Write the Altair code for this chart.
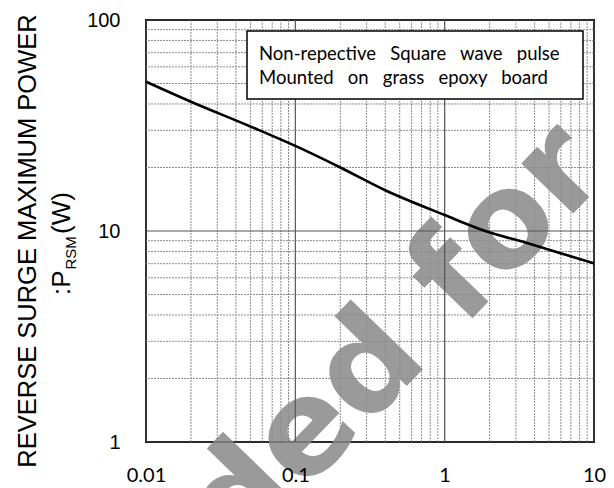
import altair as alt
import pandas as pd

# ---- data ----
pulse_width = [0.01, 0.02, 0.05, 0.1, 0.2, 0.4, 1.0, 1.87, 3.7, 5.0, 10.0]
surge_power = [51.0, 41.0, 31.3, 25.3, 20.0, 15.6, 11.9, 10.0, 8.7, 8.15, 7.03]

x_major = [0.01, 0.1, 1, 10]
y_major = [1, 10, 100]
x_minor = [0.02, 0.03, 0.04, 0.05, 0.06, 0.07, 0.08, 0.09,
           0.2, 0.3, 0.4, 0.5, 0.6, 0.7, 0.8, 0.9,
           2, 3, 4, 5, 6, 7, 8, 9]
y_minor = [2, 3, 4, 5, 6, 7, 8, 9, 20, 30, 40, 50, 60, 70, 80, 90]

gap = "\u00a0\u00a0 "
note_lines = [gap.join(["Non-repective", "Square", "wave", "pulse"]),
              gap.join(["Mounted", "on", "grass", "epoxy", "board"])]
y_title_1 = "REVERSE SURGE MAXIMUM POWER"
y_title_2 = [":P", "RSM", "(W)"]
watermark = "Not Recommended for"

W, H = 448, 422

xs = alt.Scale(type="log", domain=[0.01, 10], nice=False)
ys = alt.Scale(type="log", domain=[1, 100], nice=False)

x_axis = alt.Axis(values=x_major, format="~g", labelFont="Lato", labelFontSize=20,
                  labelColor="black", labelPadding=23, ticks=False, domain=False,
                  grid=False, title=None, labelOverlap=False, labelFlush=False, zindex=1)
y_axis = alt.Axis(values=y_major, format="~g", labelFont="Liberation Sans", labelFontSize=20,
                  labelColor="black", labelPadding=26, ticks=False, domain=False,
                  grid=False, title=None, labelOverlap=False, labelFlush=False, zindex=1)

curve_df = pd.DataFrame({"t": pulse_width, "p": surge_power})

wm = alt.Chart(pd.DataFrame({"s": [watermark]})).mark_text(
    font="DejaVu Sans", fontWeight="bold", fontSize=132, color="#9a9a9a",
    angle=314, align="right", baseline="middle"
).encode(text="s:N", x=alt.value(436), y=alt.value(127))

xminor = alt.Chart(pd.DataFrame({"t": x_minor})).mark_rule(
    color="#8c8c8c", strokeWidth=1, strokeDash=[2, 1]
).encode(x=alt.X("t:Q", scale=xs, axis=x_axis))
yminor = alt.Chart(pd.DataFrame({"p": y_minor})).mark_rule(
    color="#8c8c8c", strokeWidth=1, strokeDash=[2, 1]
).encode(y=alt.Y("p:Q", scale=ys, axis=y_axis))
xmajor = alt.Chart(pd.DataFrame({"t": x_major})).mark_rule(
    color="#555555", strokeWidth=1.2
).encode(x=alt.X("t:Q", scale=xs, axis=x_axis))
ymajor = alt.Chart(pd.DataFrame({"p": y_major})).mark_rule(
    color="#555555", strokeWidth=1.2
).encode(y=alt.Y("p:Q", scale=ys, axis=y_axis))

curve = alt.Chart(curve_df).mark_line(
    color="black", strokeWidth=2.6, interpolate="monotone"
).encode(x=alt.X("t:Q", scale=xs, axis=x_axis), y=alt.Y("p:Q", scale=ys, axis=y_axis))

box = alt.Chart(pd.DataFrame({"k": [0]})).mark_rect(
    fill="white", stroke="black", strokeWidth=1.5
).encode(x=alt.value(101), x2=alt.value(437), y=alt.value(11), y2=alt.value(79))

note1 = alt.Chart(pd.DataFrame({"s": [note_lines[0]]})).mark_text(
    font="Lato", fontSize=18.5, color="black", align="left", baseline="alphabetic"
).encode(text="s:N", x=alt.value(113), y=alt.value(39.5))
note2 = alt.Chart(pd.DataFrame({"s": [note_lines[1]]})).mark_text(
    font="Lato", fontSize=18.5, color="black", align="left", baseline="alphabetic"
).encode(text="s:N", x=alt.value(113), y=alt.value(63.5))

yt1 = alt.Chart(pd.DataFrame({"s": [y_title_1]})).mark_text(
    font="Liberation Sans", fontSize=25.5, color="black", angle=270,
    align="center", baseline="alphabetic"
).encode(text="s:N", x=alt.value(-110), y=alt.value(221))
yt2a = alt.Chart(pd.DataFrame({"s": [y_title_2[0]]})).mark_text(
    font="Liberation Sans", fontSize=26, color="black", angle=270,
    align="left", baseline="alphabetic"
).encode(text="s:N", x=alt.value(-76), y=alt.value(275))
yt2b = alt.Chart(pd.DataFrame({"s": [y_title_2[1]]})).mark_text(
    font="Liberation Sans", fontSize=15, color="black", angle=270,
    align="left", baseline="alphabetic"
).encode(text="s:N", x=alt.value(-70), y=alt.value(249.5))
yt2c = alt.Chart(pd.DataFrame({"s": [y_title_2[2]]})).mark_text(
    font="Liberation Sans", fontSize=26, color="black", angle=270,
    align="left", baseline="alphabetic"
).encode(text="s:N", x=alt.value(-76), y=alt.value(214))

chart = alt.layer(
    wm, xminor, yminor, xmajor, ymajor, curve, box, note1, note2, yt1, yt2a, yt2b, yt2c
).properties(
    width=W, height=H,
    autosize=alt.AutoSizeParams(type="none"),
    padding={"left": 138, "top": 12, "right": 12, "bottom": 46},
    background="white",
).configure_view(stroke="black", strokeWidth=2)

chart.save("out.html", embed_options={"renderer": "svg", "actions": False})
